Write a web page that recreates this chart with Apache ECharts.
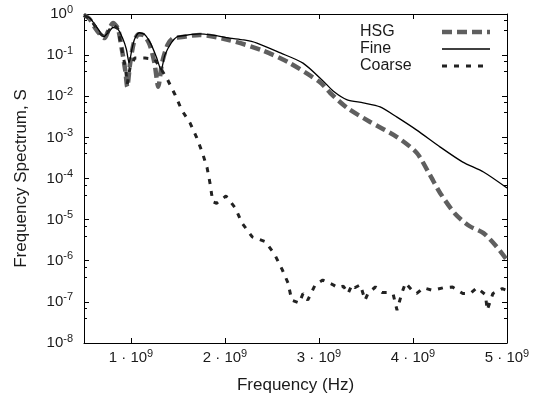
<!DOCTYPE html>
<html>
<head>
<meta charset="utf-8">
<script src="https://cdn.jsdelivr.net/npm/echarts@6/dist/echarts.min.js"></script>
<style>
  html, body { margin: 0; padding: 0; background: #fff; }
  #main { width: 545px; height: 405px; }
</style>
</head>
<body>
<div id="main"></div>
<script>
// frequency in units of 1e9 Hz
var hsgX = [0.50, 0.56, 0.62, 0.67, 0.72, 0.76, 0.81, 0.86, 0.90, 0.94, 0.96, 0.99, 1.03, 1.08, 1.14, 1.20, 1.25, 1.29, 1.33, 1.39, 1.45, 1.52, 1.73, 2.05, 2.40, 2.69, 3.01, 3.12, 3.30, 3.54, 3.83, 4.04, 4.18, 4.29, 4.45, 4.60, 4.75, 4.89, 5.00];
var hsgY = [0.95, 0.75, 0.45, 0.32, 0.26, 0.40, 0.60, 0.45, 0.15, 0.041, 0.017, 0.061, 0.20, 0.32, 0.30, 0.177, 0.064, 0.017, 0.064, 0.18, 0.26, 0.27, 0.31, 0.23, 0.13, 0.064, 0.022, 0.012, 0.0052, 0.0024, 0.00102, 0.00042, 0.000122, 0.000044, 0.0000137, 0.000007, 0.0000047, 0.0000022, 0.00000104];

var fineX = [0.50, 0.56, 0.62, 0.67, 0.71, 0.75, 0.81, 0.86, 0.91, 0.95, 0.98, 1.01, 1.04, 1.09, 1.15, 1.21, 1.27, 1.32, 1.36, 1.43, 1.49, 1.57, 1.65, 1.73, 1.85, 2.05, 2.20, 2.34, 2.59, 2.83, 3.04, 3.15, 3.30, 3.47, 3.65, 3.83, 4.04, 4.29, 4.53, 4.75, 5.00];
var fineY = [0.90, 0.80, 0.54, 0.37, 0.28, 0.34, 0.47, 0.43, 0.26, 0.141, 0.065, 0.14, 0.25, 0.35, 0.31, 0.19, 0.09, 0.044, 0.10, 0.20, 0.28, 0.30, 0.32, 0.33, 0.31, 0.26, 0.235, 0.197, 0.113, 0.064, 0.024, 0.0135, 0.0082, 0.0069, 0.0055, 0.0031, 0.0015, 0.00058, 0.00025, 0.000144, 0.0000588];

var coarseX = [0.50, 0.56, 0.62, 0.67, 0.72, 0.76, 0.81, 0.86, 0.90, 0.94, 0.96, 0.99, 1.04, 1.15, 1.25, 1.31, 1.39, 1.47, 1.54, 1.63, 1.70, 1.76, 1.81, 1.84, 1.87, 1.91, 2.01, 2.11, 2.18, 2.29, 2.43, 2.53, 2.61, 2.67, 2.71, 2.79, 2.83, 2.88, 2.96, 3.04, 3.15, 3.20, 3.26, 3.31, 3.35, 3.38, 3.44, 3.49, 3.52, 3.60, 3.67, 3.72, 3.79, 3.83, 3.88, 3.92, 3.99, 4.04, 4.11, 4.21, 4.32, 4.42, 4.53, 4.61, 4.68, 4.77, 4.79, 4.85, 4.95, 5.00];
var coarseY = [0.93, 0.78, 0.50, 0.34, 0.27, 0.38, 0.55, 0.44, 0.15, 0.05, 0.02, 0.05, 0.085, 0.085, 0.08, 0.05, 0.025, 0.0107, 0.0046, 0.0022, 0.00097, 0.00042, 0.00018, 0.000078, 0.000027, 0.000025, 0.0000375, 0.0000192, 0.0000083, 0.0000038, 0.0000029, 0.0000014, 0.0000006, 0.00000029, 0.00000011, 0.000000094, 0.00000016, 0.00000011, 0.00000026, 0.00000034, 0.00000026, 0.00000022, 0.00000024, 0.00000016, 0.00000026, 0.00000022, 0.00000026, 0.00000011, 0.00000016, 0.00000023, 0.00000017, 0.00000017, 0.00000015, 0.000000063, 0.00000016, 0.00000029, 0.00000019, 0.00000016, 0.00000022, 0.00000019, 0.00000022, 0.00000023, 0.00000016, 0.00000016, 0.00000022, 0.00000015, 0.000000063, 0.00000016, 0.00000021, 0.00000019];

var xTicks = [1, 2, 3, 4, 5];

function pairs(xs, ys) {
  return xs.map(function (x, i) { return [x, ys[i]]; });
}

var chart = echarts.init(document.getElementById('main'));
var font = 'Liberation Sans, Arial, sans-serif';
var ink = '#1a1a1a';

var hsgLine = { color: '#5f5f5f', width: 4.5, type: [10, 5] };
var fineLine = { color: '#000', width: 1.3, type: 'solid' };
var coarseLine = { color: '#222', width: 3, type: [5, 7] };

var option = {
  animation: false,
  textStyle: { fontFamily: font },
  grid: { left: 84, right: 38, top: 14, bottom: 62 },
  legend: {
    orient: 'vertical',
    left: 355,
    top: 19,
    align: 'right',
    itemWidth: 48,
    itemHeight: 10,
    itemGap: 1,
    itemStyle: { opacity: 0 },
    formatter: '{t|{name}}',
    textStyle: {
      fontSize: 16, color: ink, fontFamily: font,
      rich: { t: { width: 77, align: 'left', fontSize: 16, lineHeight: 17, color: ink, fontFamily: font } }
    },
    data: [
      { name: 'HSG', lineStyle: hsgLine },
      { name: 'Fine', lineStyle: fineLine },
      { name: 'Coarse', lineStyle: coarseLine }
    ]
  },
  xAxis: [{
    type: 'value',
    min: 0.5,
    max: 5,
    name: 'Frequency (Hz)',
    nameLocation: 'middle',
    nameGap: 34,
    nameTextStyle: { fontSize: 17, color: ink },
    axisLine: { lineStyle: { color: '#000', width: 1 } },
    axisTick: { inside: true, length: 5, customValues: xTicks, lineStyle: { color: '#000' } },
    axisLabel: {
      customValues: xTicks,
      margin: 5,
      formatter: function (v) { return '{n|' + v + ' · 10}{s|9}'; },
      rich: {
        n: { fontSize: 15, color: ink, fontFamily: font },
        s: { fontSize: 11, color: ink, fontFamily: font, padding: [0, 0, 9, 0] }
      }
    },
    splitLine: { show: false }
  }, {
    type: 'value',
    position: 'top',
    min: 0.5,
    max: 5,
    axisLine: { show: true, lineStyle: { color: '#000', width: 1 } },
    axisTick: { inside: true, length: 5, customValues: xTicks, lineStyle: { color: '#000' } },
    axisLabel: { show: false },
    splitLine: { show: false }
  }],
  yAxis: [{
    type: 'log',
    logBase: 10,
    min: 1e-8,
    max: 1,
    splitNumber: 8,
    name: 'Frequency Spectrum, S',
    nameLocation: 'middle',
    nameGap: 54,
    nameTextStyle: { fontSize: 17, color: ink },
    axisLine: { show: true, lineStyle: { color: '#000', width: 1 } },
    axisTick: { inside: true, length: 5, lineStyle: { color: '#000' } },
    minorTick: { show: true, splitNumber: 3, length: 3, lineStyle: { color: '#000' } },
    axisLabel: {
      margin: 11,
      formatter: function (v) {
        var e = Math.round(Math.log10(v));
        return '{n|10}{s|' + e + '}';
      },
      rich: {
        n: { fontSize: 15, color: ink, fontFamily: font },
        s: { fontSize: 11, color: ink, fontFamily: font, padding: [0, 0, 9, 0] }
      }
    },
    splitLine: { show: false }
  }, {
    type: 'log',
    logBase: 10,
    position: 'right',
    min: 1e-8,
    max: 1,
    splitNumber: 8,
    axisLine: { show: true, lineStyle: { color: '#000', width: 1 } },
    axisTick: { inside: true, length: 5, lineStyle: { color: '#000' } },
    minorTick: { show: true, splitNumber: 3, length: 3, lineStyle: { color: '#000' } },
    axisLabel: { show: false },
    splitLine: { show: false }
  }],
  series: [{
    name: 'HSG',
    type: 'line',
    data: pairs(hsgX, hsgY),
    showSymbol: false,
    symbol: 'none',
    smooth: 0.25,
    lineStyle: hsgLine,
    itemStyle: { color: '#5f5f5f' },
    z: 2
  }, {
    name: 'Fine',
    type: 'line',
    data: pairs(fineX, fineY),
    showSymbol: false,
    symbol: 'none',
    smooth: 0.25,
    lineStyle: fineLine,
    itemStyle: { color: '#000' },
    z: 3
  }, {
    name: 'Coarse',
    type: 'line',
    data: pairs(coarseX, coarseY),
    showSymbol: false,
    symbol: 'none',
    lineStyle: coarseLine,
    itemStyle: { color: '#222' },
    z: 4
  }]
};

chart.setOption(option);
</script>
</body>
</html>
